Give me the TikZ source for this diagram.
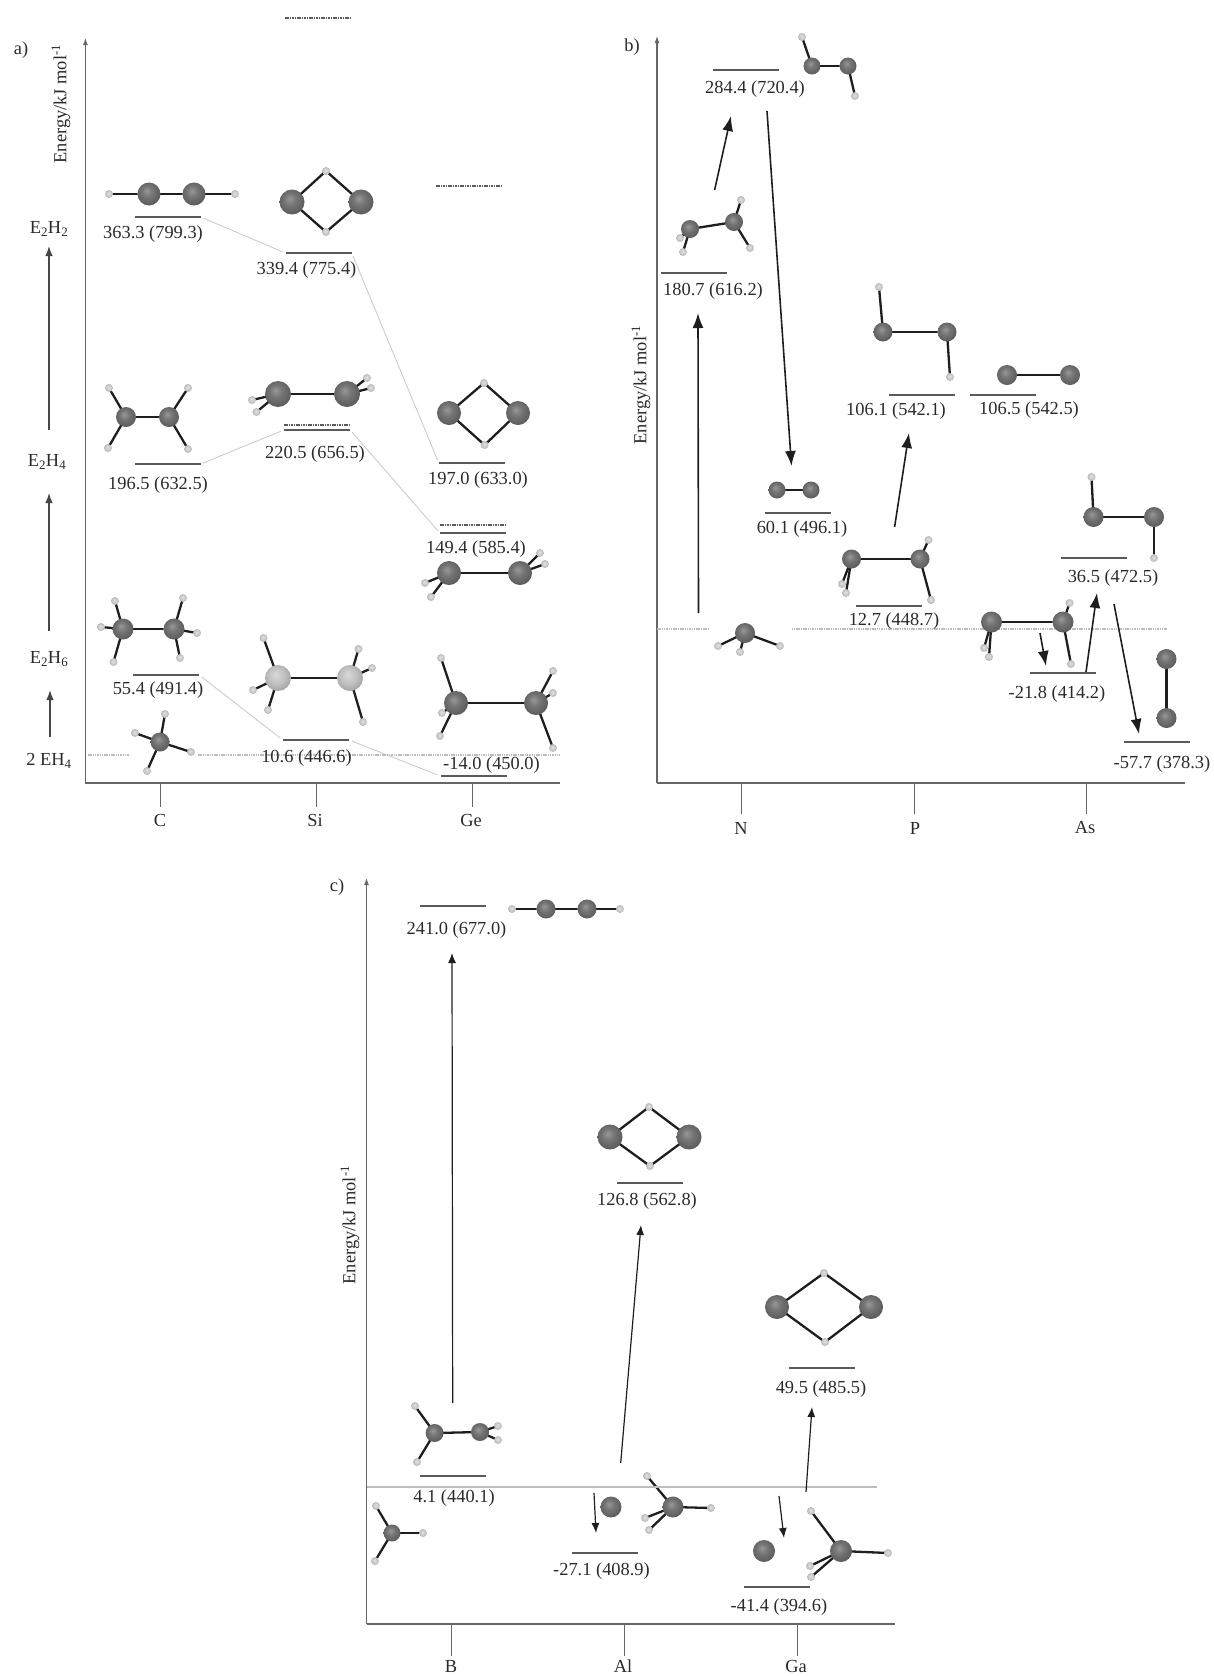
\documentclass[tikz,border=0pt]{standalone}
\usepackage{fontspec}
\setmainfont{Liberation Serif}
\usetikzlibrary{arrows.meta,backgrounds}
\definecolor{inkc}{HTML}{2A2A2A}
\definecolor{axisc}{HTML}{666666}
\definecolor{levelc}{HTML}{5A5A5A}
\definecolor{linkc}{HTML}{CCCCCC}
\definecolor{refc}{HTML}{BDBDBD}
\definecolor{bondc}{HTML}{1E1E1E}
\definecolor{hba}{HTML}{989898}
\definecolor{hbb}{HTML}{757575}
\definecolor{hbc}{HTML}{5E5E5E}
\definecolor{hbd}{HTML}{404040}
\definecolor{lba}{HTML}{DADADA}
\definecolor{lbb}{HTML}{C0C0C0}
\definecolor{lbc}{HTML}{A0A0A0}
\definecolor{lbd}{HTML}{6A6A6A}
\definecolor{yba}{HTML}{E2E2E2}
\definecolor{ybb}{HTML}{BEBEBE}
\definecolor{ybc}{HTML}{868686}
\pgfdeclareradialshading{heavyball}{\pgfpoint{-5bp}{7bp}}{color(0bp)=(hba);color(12bp)=(hbb);color(26bp)=(hbc);color(50bp)=(hbd)}
\pgfdeclareradialshading{lightball}{\pgfpoint{-5bp}{7bp}}{color(0bp)=(lba);color(16bp)=(lbb);color(30bp)=(lbc);color(50bp)=(lbd)}
\pgfdeclareradialshading{hydball}{\pgfpoint{-3bp}{5bp}}{color(0bp)=(yba);color(22bp)=(ybb);color(50bp)=(ybc)}
\tikzset{
  x=1pt,y=-1pt,
  heavy/.style={circle,inner sep=0pt,draw=none,shading=heavyball,minimum size=#1},
  heavylight/.style={circle,inner sep=0pt,draw=none,shading=lightball,minimum size=#1},
  hydrogen/.style={circle,inner sep=0pt,draw=none,shading=hydball,minimum size=8pt},
  bond/.style={draw=bondc,line width=2.3pt},
  level/.style={rectangle,inner sep=0pt,fill=levelc,minimum height=1.3pt,minimum width=66pt},
  lab/.style={inner sep=0pt,text=inkc,font=\fontsize{18.4}{20}\selectfont},
  axisline/.style={draw=axisc,line width=1.2pt},
  axisarrow/.style={axisline,-{Latex[length=7pt,width=5pt]}},
  tick/.style={draw=axisc,line width=1pt},
  link/.style={draw=linkc,line width=0.9pt,shorten >=3pt,shorten <=3pt},
  refline/.style={draw=refc,line width=1.1pt,dash pattern=on 1.5pt off 0.8pt},
  dotlevel/.style={draw=levelc,line width=1.8pt,dash pattern=on 1.6pt off 0.8pt},
  react/.style={draw=bondc,line width=1.6pt,-{Latex[length=15pt,width=11pt]}},
  reactthin/.style={draw=bondc,line width=1.2pt,-{Latex[length=10pt,width=8pt]}},
  stagearrow/.style={draw=axisc!70!black,line width=1.3pt,-{Latex[length=10pt,width=7.5pt]}},
}
\newcommand{\hv}[4]{\node[heavy=#4pt] (#1) at (#2,#3) {};}
\newcommand{\hl}[4]{\node[heavylight=#4pt] (#1) at (#2,#3) {};}
\newcommand{\hyd}[3]{\node[hydrogen] (#1) at (#2,#3) {};}
\newcommand{\bonds}[1]{\begin{scope}[on background layer]\foreach \u/\v in {#1} {\draw[bond] (\u.center) -- (\v.center);}\end{scope}}
\newcommand{\lvl}[7]{\node[level] (#1) at (#2,#3) {};\node[lab,yshift=-1.5pt] (#4) at (#5,#6) {#7};}
\newcommand{\dotl}[4]{\coordinate (#1a) at (#2,#4);\coordinate (#1b) at (#3,#4);\draw[dotlevel] (#1a) -- (#1b);}
\newcommand{\rarrow}[6][react]{\coordinate (#2a) at (#3,#4);\coordinate (#2b) at (#5,#6);\draw[#1] (#2a) -- (#2b);}
\begin{document}
\begin{tikzpicture}
\useasboundingbox (0,0) rectangle (1213,1676);
%% ---------- panel a ----------
\node[lab] (alabel) at (21,50) {a)};
\coordinate (aO) at (85.4,783);\coordinate (aT) at (85.4,38);\coordinate (aR) at (560,783);
\draw[axisarrow] (aO) -- (aT);
\draw[axisline] (aO) -- (aR);
\node[lab,rotate=90] (aen) at (61,104) {Energy/kJ mol\textsuperscript{-1}};
\foreach \n/\x/\t/\tx in {aC/160/C/160,aSi/316.5/Si/315,aGe/472.7/Ge/471}{
  \coordinate (\n t) at (\x,783);\coordinate (\n b) at (\x,807);
  \draw[tick] (\n t) -- (\n b);
  \node[lab] (\n l) at (\tx,820) {\t};
}
\node[lab] (st2) at (49,229) {E\textsubscript{2}H\textsubscript{2}};
\node[lab] (st4) at (47,462) {E\textsubscript{2}H\textsubscript{4}};
\node[lab] (st6) at (49,659) {E\textsubscript{2}H\textsubscript{6}};
\node[lab] (st8) at (49,761) {2 EH\textsubscript{4}};
\rarrow[stagearrow]{sa}{49}{430}{49}{246}
\rarrow[stagearrow]{sb}{49}{631}{49}{493}
\rarrow[stagearrow]{sc}{50}{737}{50}{690}
\coordinate (ar1) at (88,755);\coordinate (ar2) at (129,755);\coordinate (ar3) at (198,755);\coordinate (ar4) at (560,755);
\draw[refline] (ar1) -- (ar2);\draw[refline] (ar3) -- (ar4);
\lvl{a1}{167.5}{217}{a1t}{153}{233}{363.3 (799.3)}
\lvl{a2}{318.5}{253}{a2t}{306.5}{269}{339.4 (775.4)}
\lvl{a3}{472}{463}{a3t}{478}{479}{197.0 (633.0)}
\lvl{a4}{167.5}{464}{a4t}{158}{484}{196.5 (632.5)}
\lvl{a5}{317}{430}{a5t}{315}{453}{220.5 (656.5)}
\lvl{a6}{473}{533}{a6t}{476}{548}{149.4 (585.4)}
\lvl{a7}{166}{675}{a7t}{158}{689}{55.4 (491.4)}
\lvl{a8}{316}{740}{a8t}{306.5}{757}{10.6 (446.6)}
\lvl{a9}{473.5}{776}{a9t}{491.5}{764}{-14.0 (450.0)}
\dotl{ad1}{285}{350}{18}
\dotl{ad2}{436}{502}{186}
\dotl{ad3}{284}{350}{425}
\dotl{ad4}{440}{506}{525}
\begin{scope}[on background layer]
\draw[link] (a1.east) -- (a2.west);
\draw[link] (a2.east) -- (a3.west);
\draw[link] (a4.east) -- (a5.west);
\draw[link] (a5.east) -- (a6.west);
\draw[link] (a7.east) -- (a8.west);
\draw[link] (a8.east) -- (a9.west);
\end{scope}
% C2H2
\hyd{m1h1}{109}{194}\hv{m1a}{149}{194}{23}\hv{m1b}{194}{194}{23}\hyd{m1h2}{235}{194}
\bonds{m1h1/m1a,m1a/m1b,m1b/m1h2}
% Si2H2
\hv{m2a}{292}{202}{25}\hv{m2b}{361}{202}{25}\hyd{m2h1}{326}{171}\hyd{m2h2}{326}{232}
\bonds{m2a/m2h1,m2h1/m2b,m2b/m2h2,m2h2/m2a}
% C2H4
\hv{m3a}{126}{417}{20}\hv{m3b}{169}{417}{20}\hyd{m3h1}{109}{388}\hyd{m3h2}{188}{388}\hyd{m3h3}{108}{448}\hyd{m3h4}{188}{449}
\bonds{m3a/m3b,m3a/m3h1,m3a/m3h3,m3b/m3h2,m3b/m3h4}
% Si2H4
\hv{m4a}{278}{394}{26}\hv{m4b}{347}{394}{26}\hyd{m4h1}{367}{378}\hyd{m4h2}{371}{388}\hyd{m4h3}{252}{400}\hyd{m4h4}{256.5}{412}
\bonds{m4a/m4b,m4b/m4h1,m4b/m4h2,m4a/m4h3,m4a/m4h4}
% Ge2H2
\hv{m5a}{449}{413}{24}\hv{m5b}{518}{413}{24}\hyd{m5h1}{484}{383}\hyd{m5h2}{484.6}{445}
\bonds{m5a/m5h1,m5h1/m5b,m5b/m5h2,m5h2/m5a}
% Ge2H4
\hv{m6a}{449}{573}{24}\hv{m6b}{520}{573}{24}\hyd{m6h1}{540}{553}\hyd{m6h2}{545}{564}\hyd{m6h3}{425}{583}\hyd{m6h4}{431}{597}
\bonds{m6a/m6b,m6b/m6h1,m6b/m6h2,m6a/m6h3,m6a/m6h4}
% C2H6
\hv{m7a}{123}{629}{21}\hv{m7b}{174}{629}{21}\hyd{m7h1}{115}{601}\hyd{m7h2}{101}{627}\hyd{m7h3}{113.5}{662}\hyd{m7h4}{183}{598}\hyd{m7h5}{197}{633}\hyd{m7h6}{180}{658}
\bonds{m7a/m7b,m7a/m7h1,m7a/m7h2,m7a/m7h3,m7b/m7h4,m7b/m7h5,m7b/m7h6}
% Si2H6
\hl{m8a}{278}{678}{26}\hl{m8b}{350}{678}{26}\hyd{m8h1}{263.5}{638}\hyd{m8h2}{253}{690}\hyd{m8h3}{268}{710}\hyd{m8h4}{358.5}{649}\hyd{m8h5}{372}{668}\hyd{m8h6}{363}{722}
\bonds{m8a/m8b,m8a/m8h1,m8a/m8h2,m8a/m8h3,m8b/m8h4,m8b/m8h5,m8b/m8h6}
% Ge2H6
\hv{m9a}{456}{703}{24}\hv{m9b}{536}{703}{24}\hyd{m9h1}{441}{658}\hyd{m9h2}{442}{713}\hyd{m9h3}{440}{736}\hyd{m9h4}{553}{671}\hyd{m9h5}{553}{693}\hyd{m9h6}{553}{748}
\bonds{m9a/m9b,m9a/m9h1,m9a/m9h2,m9a/m9h3,m9b/m9h4,m9b/m9h5,m9b/m9h6}
% CH4
\hv{m0a}{160}{742}{19}\hyd{m0h1}{165}{714}\hyd{m0h2}{135}{733}\hyd{m0h3}{191}{752}\hyd{m0h4}{147}{771}
\bonds{m0a/m0h1,m0a/m0h2,m0a/m0h3,m0a/m0h4}
%% ---------- panel b ----------
\node[lab] (blabel) at (632,47) {b)};
\coordinate (bO) at (657,783);\coordinate (bT) at (657,36);\coordinate (bR) at (1185,783);
\draw[axisarrow] (bO) -- (bT);
\draw[axisline] (bO) -- (bR);
\node[lab,rotate=90] (ben) at (641,385) {Energy/kJ mol\textsuperscript{-1}};
\foreach \n/\x/\t/\tx in {bN/741.5/N/741,bP/914/P/915,bAs/1086/As/1085}{
  \coordinate (\n t) at (\x,783);\coordinate (\n b) at (\x,814);
  \draw[tick] (\n t) -- (\n b);
  \node[lab] (\n l) at (\tx,828) {\t};
}
\coordinate (br1) at (657,629);\coordinate (br2) at (708,629);\coordinate (br3) at (791.5,629);\coordinate (br4) at (1166.5,629);
\draw[refline] (br1) -- (br2);\draw[refline] (br3) -- (br4);
\lvl{b1}{746}{70}{b1t}{755}{88}{284.4 (720.4)}
\lvl{b2}{693.5}{273}{b2t}{713}{290}{180.7 (616.2)}
\lvl{b3}{921.5}{395}{b3t}{896}{410}{106.1 (542.1)}
\lvl{b4}{1002.5}{395}{b4t}{1029}{409}{106.5 (542.5)}
\lvl{b5}{797.5}{513}{b5t}{802}{528}{60.1 (496.1)}
\lvl{b6}{889}{606}{b6t}{894}{620}{12.7 (448.7)}
\lvl{b7}{1094}{558}{b7t}{1113}{577}{36.5 (472.5)}
\lvl{b8}{1062.5}{673}{b8t}{1057}{693}{-21.8 (414.2)}
\lvl{b9}{1157}{742}{b9t}{1162}{763}{-57.7 (378.3)}
\rarrow{ba1}{698.5}{613}{698}{313}
\rarrow{ba2}{714.6}{190}{731}{116}
\rarrow{ba3}{767}{111}{791.5}{466}
\rarrow{ba4}{894.6}{527}{909}{433}
\rarrow{ba5}{1040}{633}{1046}{666}
\rarrow{ba6}{1086}{672}{1097}{593}
\rarrow{ba7}{1114}{604}{1139}{734}
% N2H2
\hyd{n1h1}{802}{37}\hv{n1a}{812}{66}{17}\hv{n1b}{848}{66}{17}\hyd{n1h2}{855}{96}
\bonds{n1h1/n1a,n1a/n1b,n1b/n1h2}
% N2H4
\hv{n2a}{690}{229}{18}\hv{n2b}{734}{222}{18}\hyd{n2h1}{741}{200}\hyd{n2h2}{750}{248}\hyd{n2h3}{680}{238}\hyd{n2h4}{683}{252}
\bonds{n2a/n2b,n2b/n2h1,n2b/n2h2,n2a/n2h3,n2a/n2h4}
% P2H2
\hyd{n3h1}{879}{287}\hv{n3a}{883}{332}{19}\hv{n3b}{947}{332}{19}\hyd{n3h2}{950}{377}
\bonds{n3h1/n3a,n3a/n3b,n3b/n3h2}
% P2
\hv{n4a}{1007}{375}{20}\hv{n4b}{1070}{375}{20}
\bonds{n4a/n4b}
% N2
\hv{n5a}{777}{490}{17}\hv{n5b}{811}{490}{17}
\bonds{n5a/n5b}
% P2H4
\hv{n6a}{851.5}{559}{19}\hv{n6b}{920}{559}{19}\hyd{n6h1}{928.5}{540}\hyd{n6h2}{931}{600}\hyd{n6h3}{842}{584}\hyd{n6h4}{846}{593}
\bonds{n6a/n6b,n6b/n6h1,n6b/n6h2,n6a/n6h3,n6a/n6h4}
% As2H2
\hyd{n7h1}{1091.5}{477}\hv{n7a}{1093.5}{517}{20}\hv{n7b}{1154}{517}{20}\hyd{n7h2}{1154}{558}
\bonds{n7h1/n7a,n7a/n7b,n7b/n7h2}
% As2H4
\hv{n8a}{991.5}{622}{21}\hv{n8b}{1063}{622}{21}\hyd{n8h1}{1069.6}{603}\hyd{n8h2}{1071}{664}\hyd{n8h3}{984}{648}\hyd{n8h4}{989}{657}
\bonds{n8a/n8b,n8b/n8h1,n8b/n8h2,n8a/n8h3,n8a/n8h4}
% As2
\hv{n9a}{1166.5}{659}{20}\hv{n9b}{1166.5}{718}{20}
\bonds{n9a/n9b}
% NH3
\hv{n0a}{745}{633}{20}\hyd{n0h1}{718}{646}\hyd{n0h2}{740}{652}\hyd{n0h3}{780}{646}
\bonds{n0a/n0h1,n0a/n0h2,n0a/n0h3}
%% ---------- panel c ----------
\node[lab] (clabel) at (337,887) {c)};
\coordinate (cO) at (366.5,1624);\coordinate (cT) at (366.5,878);\coordinate (cR) at (895,1624);
\draw[axisarrow] (cO) -- (cT);
\draw[axisline] (cO) -- (cR);
\node[lab,rotate=90] (cen) at (350,1225) {Energy/kJ mol\textsuperscript{-1}};
\foreach \n/\x/\t/\tx in {cB/451.5/B/451,cAl/624.6/Al/623,cGa/797/Ga/796}{
  \coordinate (\n t) at (\x,1624);\coordinate (\n b) at (\x,1656);
  \draw[tick] (\n t) -- (\n b);
  \node[lab] (\n l) at (\tx,1666) {\t};
}
\coordinate (cr1) at (366.5,1487);\coordinate (cr2) at (877,1487);
\draw[draw=refc,line width=2pt] (cr1) -- (cr2);
\lvl{c1}{453}{906}{c1t}{456.5}{929}{241.0 (677.0)}
\lvl{c2}{649.5}{1183}{c2t}{647}{1200}{126.8 (562.8)}
\lvl{c3}{822}{1368}{c3t}{821}{1388}{49.5 (485.5)}
\lvl{c4}{452.5}{1476}{c4t}{454}{1497}{4.1 (440.1)}
\lvl{c5}{605}{1553}{c5t}{601.5}{1570}{-27.1 (408.9)}
\lvl{c6}{777}{1587}{c6t}{779}{1606}{-41.4 (394.6)}
\rarrow[reactthin]{ca1}{452.7}{1403}{452}{953}
\rarrow[reactthin]{ca2}{620.7}{1463}{641}{1225}
\rarrow[reactthin]{ca3}{594}{1493}{596}{1533}
\rarrow[reactthin]{ca4}{779}{1496}{784}{1538}
\rarrow[reactthin]{ca5}{806}{1492}{812}{1407}
% B2H2
\hyd{k1h1}{512}{909}\hv{k1a}{546}{909}{19}\hv{k1b}{587}{909}{19}\hyd{k1h2}{620}{909}
\bonds{k1h1/k1a,k1a/k1b,k1b/k1h2}
% Al2H2
\hv{k2a}{610}{1137}{25}\hv{k2b}{689}{1137}{25}\hyd{k2h1}{649}{1107}\hyd{k2h2}{650}{1166}
\bonds{k2a/k2h1,k2h1/k2b,k2b/k2h2,k2h2/k2a}
% Ga2H2
\hv{k3a}{777}{1307}{24}\hv{k3b}{871}{1307}{24}\hyd{k3h1}{824}{1273}\hyd{k3h2}{825}{1342}
\bonds{k3a/k3h1,k3h1/k3b,k3b/k3h2,k3h2/k3a}
% B2H4
\hv{k4a}{434.6}{1433}{18}\hv{k4b}{480}{1432}{18}\hyd{k4h1}{415}{1406}\hyd{k4h2}{417}{1462}\hyd{k4h3}{498}{1426}\hyd{k4h4}{498}{1440}
\bonds{k4a/k4b,k4a/k4h1,k4a/k4h2,k4b/k4h3,k4b/k4h4}
% BH3
\hv{k5a}{392}{1533}{17}\hyd{k5h1}{376}{1506}\hyd{k5h2}{423}{1533}\hyd{k5h3}{375}{1561}
\bonds{k5a/k5h1,k5a/k5h2,k5a/k5h3}
% Al + AlH3
\hv{k6}{611}{1507}{21}
\hv{k7a}{673}{1507}{21}\hyd{k7h1}{647}{1476}\hyd{k7h2}{711}{1508}\hyd{k7h3}{645}{1518}\hyd{k7h4}{649}{1530}
\bonds{k7a/k7h1,k7a/k7h2,k7a/k7h3,k7a/k7h4}
% Ga + GaH3
\hv{k8}{764}{1551}{22}
\hv{k9a}{841}{1551}{22}\hyd{k9h1}{811}{1511}\hyd{k9h2}{888}{1553}\hyd{k9h3}{810}{1566}\hyd{k9h4}{811}{1577}
\bonds{k9a/k9h1,k9a/k9h2,k9a/k9h3,k9a/k9h4}
\end{tikzpicture}
\end{document}
